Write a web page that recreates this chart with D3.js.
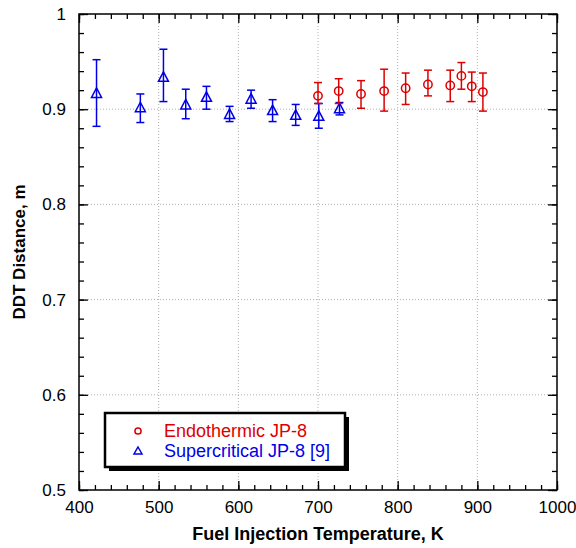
<!DOCTYPE html>
<html>
<head>
<meta charset="utf-8">
<script src="https://cdn.jsdelivr.net/npm/d3@7"></script>
<style>
body { margin: 0; background: #fff; }
text { font-family: "Liberation Sans", Arial, sans-serif; }
</style>
</head>
<body>
<svg width="576" height="548"></svg>
<script>
// Endothermic JP-8 (red circles)
var endoT   = [700, 726, 754, 783, 810, 838, 866, 880, 893, 907];
var endoY   = [0.914, 0.919, 0.916, 0.919, 0.922, 0.926, 0.925, 0.935, 0.924, 0.918];
var endoHi  = [0.928, 0.932, 0.930, 0.942, 0.938, 0.941, 0.941, 0.949, 0.939, 0.938];
var endoLo  = [0.906, 0.906, 0.901, 0.898, 0.905, 0.914, 0.908, 0.921, 0.908, 0.898];

// Supercritical JP-8 [9] (blue triangles)
var superT  = [422, 477, 506, 534, 560, 589, 616, 643, 672, 701, 727];
var superY  = [0.916, 0.901, 0.933, 0.904, 0.912, 0.894, 0.910, 0.898, 0.893, 0.892, 0.900];
var superHi = [0.952, 0.916, 0.963, 0.921, 0.924, 0.903, 0.920, 0.910, 0.905, 0.906, 0.907];
var superLo = [0.882, 0.886, 0.908, 0.890, 0.900, 0.887, 0.901, 0.887, 0.883, 0.880, 0.894];

var xTicks = [400, 500, 600, 700, 800, 900, 1000];
var yTicks = [0.5, 0.6, 0.7, 0.8, 0.9, 1];
var legendLabels = ["Endothermic JP-8", "Supercritical JP-8 [9]"];

var svg = d3.select("svg");
var mLeft = 79, mTop = 14, mRight = 557, mBottom = 490;
var width = mRight - mLeft, height = mBottom - mTop;

var xScale = d3.scaleLinear().domain([400, 1000]).range([0, width]);
var yScale = d3.scaleLinear().domain([0.5, 1]).range([height, 0]);

var g = svg.append("g").attr("transform", "translate(" + mLeft + "," + mTop + ")");

// dotted grid
g.selectAll(".gx").data(xTicks.slice(1, -1)).enter().append("line")
  .attr("x1", d => xScale(d)).attr("x2", d => xScale(d))
  .attr("y1", 0).attr("y2", height)
  .attr("stroke", "#b0b0b0").attr("stroke-width", 1).attr("stroke-dasharray", "1,2");
g.selectAll(".gy").data(yTicks.slice(1, -1)).enter().append("line")
  .attr("x1", 0).attr("x2", width)
  .attr("y1", d => yScale(d)).attr("y2", d => yScale(d))
  .attr("stroke", "#b0b0b0").attr("stroke-width", 1).attr("stroke-dasharray", "1,2");

var xMinor = d3.range(400, 1001, 20);
var yMinor = d3.range(0.5, 1.0001, 0.02);

function drawAxis(tr, axis) {
  var ax = g.append("g").attr("transform", tr).call(axis);
  ax.select(".domain").remove();
  ax.selectAll("line").attr("stroke", "#000").attr("stroke-width", 1.3);
  ax.selectAll("text").attr("font-size", 17).attr("fill", "#000");
  return ax;
}
// bottom
drawAxis("translate(0," + height + ")", d3.axisBottom(xScale).tickValues(xTicks).tickSizeInner(-9).tickSizeOuter(0).tickPadding(11).tickFormat(d3.format("d")));
drawAxis("translate(0," + height + ")", d3.axisBottom(xScale).tickValues(xMinor).tickSizeInner(-5).tickSizeOuter(0).tickFormat(""));
// top
drawAxis("translate(0,0)", d3.axisTop(xScale).tickValues(xTicks).tickSizeInner(-9).tickSizeOuter(0).tickFormat(""));
drawAxis("translate(0,0)", d3.axisTop(xScale).tickValues(xMinor).tickSizeInner(-5).tickSizeOuter(0).tickFormat(""));
// left
drawAxis("translate(0,0)", d3.axisLeft(yScale).tickValues(yTicks).tickSizeInner(-9).tickSizeOuter(0).tickPadding(13).tickFormat(d => d === 1 ? "1" : d3.format(".1f")(d)));
drawAxis("translate(0,0)", d3.axisLeft(yScale).tickValues(yMinor).tickSizeInner(-5).tickSizeOuter(0).tickFormat(""));
// right
drawAxis("translate(" + width + ",0)", d3.axisRight(yScale).tickValues(yTicks).tickSizeInner(-9).tickSizeOuter(0).tickFormat(""));
drawAxis("translate(" + width + ",0)", d3.axisRight(yScale).tickValues(yMinor).tickSizeInner(-5).tickSizeOuter(0).tickFormat(""));

g.append("rect").attr("width", width).attr("height", height)
  .attr("fill", "none").attr("stroke", "#000").attr("stroke-width", 1.5);

// error bars + markers
function series(T, Y, Hi, Lo, color, shape) {
  var data = T.map((t, i) => ({ t: t, y: Y[i], hi: Hi[i], lo: Lo[i] }));
  var s = g.append("g");
  var eb = s.selectAll(".eb").data(data).enter().append("g");
  eb.append("line")
    .attr("x1", d => xScale(d.t)).attr("x2", d => xScale(d.t))
    .attr("y1", d => yScale(d.hi)).attr("y2", d => yScale(d.lo))
    .attr("stroke", color).attr("stroke-width", 1.5);
  eb.append("line")
    .attr("x1", d => xScale(d.t) - 4).attr("x2", d => xScale(d.t) + 4)
    .attr("y1", d => yScale(d.hi)).attr("y2", d => yScale(d.hi))
    .attr("stroke", color).attr("stroke-width", 1.5);
  eb.append("line")
    .attr("x1", d => xScale(d.t) - 4).attr("x2", d => xScale(d.t) + 4)
    .attr("y1", d => yScale(d.lo)).attr("y2", d => yScale(d.lo))
    .attr("stroke", color).attr("stroke-width", 1.5);
  s.selectAll(".pt").data(data).enter().append("path")
    .attr("transform", d => "translate(" + xScale(d.t) + "," + yScale(d.y) + ")")
    .attr("d", shape === "circle" ? d3.symbol().type(d3.symbolCircle).size(55)() : "M0,-6L5,3.5L-5,3.5Z")
    .attr("fill", "none").attr("stroke", color).attr("stroke-width", 1.5);
}
series(superT, superY, superHi, superLo, "#0000e6", "tri");
series(endoT, endoY, endoHi, endoLo, "#dd0000", "circle");

// axis titles
svg.append("text").attr("x", mLeft + width / 2).attr("y", 540)
  .attr("text-anchor", "middle").attr("font-size", 18).attr("font-weight", "bold")
  .text("Fuel Injection Temperature, K");
svg.append("text").attr("transform", "translate(25," + (mTop + height / 2) + ") rotate(-90)")
  .attr("text-anchor", "middle").attr("font-size", 17).attr("font-weight", "bold")
  .text("DDT Distance, m");

// legend
var lg = svg.append("g").attr("transform", "translate(105,413)");
lg.append("rect").attr("x", 4).attr("y", 4).attr("width", 240).attr("height", 54).attr("fill", "#000");
lg.append("rect").attr("width", 240).attr("height", 54).attr("fill", "#fff").attr("stroke", "#000").attr("stroke-width", 2.5);
var colors = ["#dd0000", "#0000e6"];
legendLabels.forEach(function(l, i) {
  var yy = 18 + i * 20;
  lg.append("path").attr("transform", "translate(33," + yy + ")")
    .attr("d", i === 0 ? d3.symbol().type(d3.symbolCircle).size(30)() : "M0,-4L4,3L-4,3Z")
    .attr("fill", "none").attr("stroke", colors[i]).attr("stroke-width", 1.5);
  lg.append("text").attr("x", 59).attr("y", yy + 6).attr("font-size", 18)
    .attr("fill", colors[i]).text(l);
});
</script>
</body>
</html>
